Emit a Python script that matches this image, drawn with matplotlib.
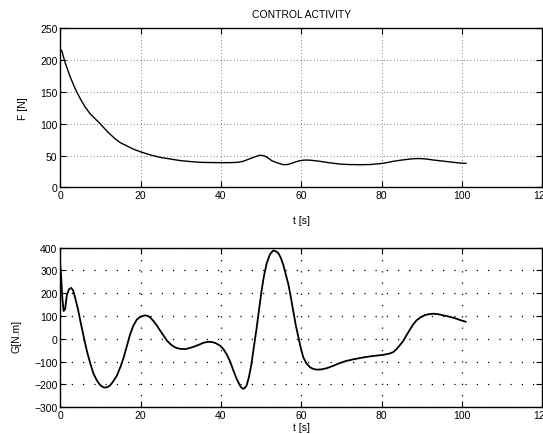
import numpy as np
import matplotlib
matplotlib.use("Agg")
import matplotlib.pyplot as plt

plt.rcParams['font.family'] = ['Liberation Sans', 'DejaVu Sans']
plt.rcParams['font.size'] = 7.5

# force F [N]
t_force = [0, 0.4, 1.2, 2.5, 3.7, 5, 6.2, 7.5, 8.8, 10, 11.8, 13.7, 15.0, 16.6, 18.2,
           19.9, 22.4, 24.9, 27.4, 29.9, 32.4, 34.9, 37.3, 39.8, 42.2, 44.2, 45.6,
           47.0, 48.5, 49.7, 50.8, 51.8, 52.6, 54.0, 55.5, 56.5, 57.5, 58.6, 59.7,
           60.5, 61.3, 62.5, 64.6, 67.0, 69.6, 72.0, 74.6, 77.0, 79.6, 81.3, 82.9,
           85.4, 87.9, 89.5, 91.0, 92.9, 95.3, 97.8, 99.9, 101]
force = [217, 214, 196, 173, 155, 139, 126, 115, 107, 99.5, 87, 76, 70, 65, 60,
         56, 51, 47, 44.5, 42, 40.5, 39.3, 39, 38.8, 38.8, 39.3, 41,
         44.5, 48, 50.5, 49.5, 46, 42, 38.5, 35.6, 35.8, 37.5, 40, 41.9,
         42.6, 42.9, 42.5, 40.9, 38.6, 36.6, 35.8, 35.6, 35.8, 37.2, 38.8, 40.9,
         43.2, 45, 45.2, 44.6, 42.9, 41.2, 39.3, 38.0, 37.7]

# torque G [N.m]
t_torque = [0, 0.17, 0.5, 0.83, 1.2, 1.66, 2.2, 2.74, 3.2, 3.7, 4.4, 5, 5.8, 6.6,
            7.5, 8.3, 9.2, 10, 10.6, 11.2, 11.8, 12.4, 13.2, 14.1, 15.0, 15.8,
            16.6, 17.4, 18.2, 19.1, 20.1, 21.2, 22.2, 23.2, 24.1, 24.9, 25.8, 26.6,
            27.6, 28.6, 29.8, 31.1, 32.1, 33.2, 34.5, 35.7, 36.8, 37.8, 38.8, 39.8,
            40.6, 41.4, 42.3, 43.1, 43.9, 44.7, 45.1, 45.6, 46.0, 46.4, 47.0, 47.6,
            48.2, 48.9, 49.5, 50.1, 50.7, 51.4, 52.2, 53.0, 53.7, 54.3, 54.9, 55.5,
            56.1, 56.8, 57.4, 58.0, 58.6, 59.3, 59.9, 60.5, 61.3, 62.2, 63.0, 63.8,
            65.0, 66.3, 68.0, 69.6, 71.2, 72.9, 75.0, 77.1, 79.0, 80.5, 82.1, 83.0,
            83.7, 84.5, 85.4, 86.2, 87.1, 87.9, 88.7, 89.7, 90.8, 91.8, 92.9, 94.0,
            95.3, 96.8, 98.3, 99.6, 100.9]
torque = [320, 288, 180, 122, 130, 194, 218, 223, 212, 180, 130, 78, 12, -52,
          -110, -154, -185, -204, -211, -214, -211, -204, -186, -161, -122, -81,
          -30, 20, 58, 85, 98, 103, 97, 78, 57, 35, 12, -9,
          -26, -38, -44, -45, -41, -35, -26, -17, -13, -14, -20, -30,
          -45, -67, -100, -139, -175, -204, -214, -219, -214, -204, -165, -110,
          -35, 49, 130, 209, 275, 332, 370, 387, 383, 375, 355, 325,
          285, 238, 182, 122, 62, 6, -42, -81, -108, -125, -132, -135,
          -134, -129, -118, -106, -97, -90, -83, -77, -73, -70, -64, -57,
          -45, -29, -9, 16, 42, 64, 81, 94, 104, 108, 110, 108,
          103, 97, 90, 82, 75]

xticks = [0, 20, 40, 60, 80, 100, 120]

fig = plt.figure(figsize=(5.43, 4.35), dpi=100)
ax1 = fig.add_axes([0.111, 0.567, 0.8877, 0.366])
ax2 = fig.add_axes([0.111, 0.0614, 0.8877, 0.3673])

ax1.plot(t_force, force, color='black', lw=1.0)
ax2.plot(t_torque, torque, color='black', lw=1.3)

ax1.set_xlim(0, 120)
ax1.set_ylim(0, 250)
ax1.set_yticks([0, 50, 100, 150, 200, 250])
ax2.set_xlim(0, 120)
ax2.set_ylim(-300, 400)
ax2.set_yticks(range(-300, 401, 100))

for ax in (ax1, ax2):
    ax.set_xticks(xticks)
    ax.tick_params(direction='in', top=True, right=True, length=4, width=0.8, pad=2,
                   labelsize=7.5)
    for s in ax.spines.values():
        s.set_linewidth(1.0)

ax1.grid(True, color='black', linestyle=(0, (1, 3)), lw=0.6, alpha=0.7)
ax2.grid(True, color='black', linestyle=(0, (1, 8)), lw=0.9)

ax1.set_title('CONTROL ACTIVITY', fontsize=7.5, pad=8)
ax1.set_xlabel('t [s]')
ax1.xaxis.set_label_coords(0.5, -0.206)
ax1.set_ylabel('F [N]')
ax1.yaxis.set_label_coords(-0.077, 0.5)
ax2.set_xlabel('t [s]')
ax2.xaxis.set_label_coords(0.5, -0.124)
ax2.set_ylabel('G[N.m]')
ax2.yaxis.set_label_coords(-0.09, 0.45)
for lab in (ax1.xaxis.label, ax2.xaxis.label):
    lab.set_va('center')
for lab in (ax1.yaxis.label, ax2.yaxis.label):
    lab.set_va('center')

fig.savefig('out.png', dpi=100)
